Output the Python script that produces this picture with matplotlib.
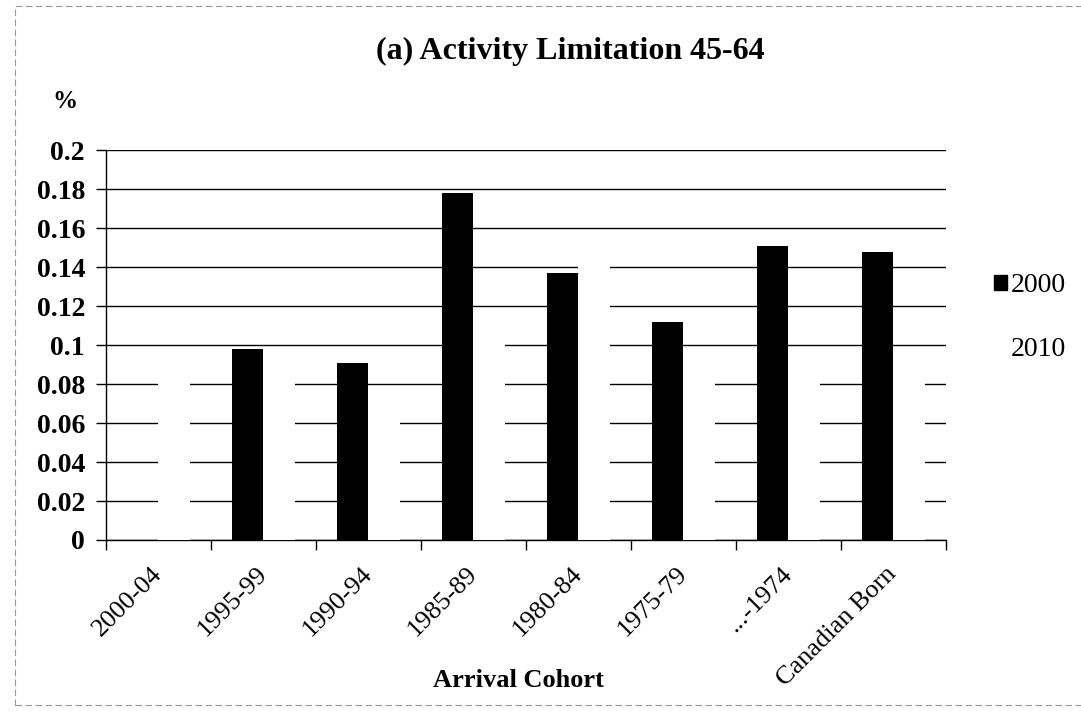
import numpy as np
import matplotlib
matplotlib.use('Agg')
import matplotlib.pyplot as plt
from matplotlib.patches import Patch, Rectangle

plt.rcParams['font.family'] = ['Liberation Serif', 'DejaVu Serif']

# данные
cohorts = ['2000-04', '1995-99', '1990-94', '1985-89', '1980-84',
           '1975-79', '...-1974', 'Canadian Born']
v2000 = [0.0, 0.098, 0.091, 0.178, 0.137, 0.112, 0.151, 0.148]
# серия 2010 белая, видна только по разрывам сетки
v2010 = [0.09, 0.09, 0.07, 0.11, 0.15, 0.09, 0.09, 0.09]
yticks = [0, 0.02, 0.04, 0.06, 0.08, 0.1, 0.12, 0.14, 0.16, 0.18, 0.2]
ylabels = ['0', '0.02', '0.04', '0.06', '0.08', '0.1', '0.12', '0.14',
           '0.16', '0.18', '0.2']

fig = plt.figure(figsize=(10.81, 7.14), dpi=100)
ax = fig.add_axes([0.098, 0.2437, 0.777, 0.546])

x = np.arange(len(cohorts))
w = 0.3
ax.bar(x - w / 2, v2000, w, color='black', zorder=3)
ax.bar(x + w / 2, v2010, w, color='white', zorder=3)

ax.set_ylim(0, 0.2)
ax.set_xlim(-0.5, len(cohorts) - 0.5)
ax.set_yticks(yticks)
ax.set_yticklabels(ylabels, fontsize=20, fontweight='bold')
ax.yaxis.grid(True, color='black', linewidth=1.0, zorder=1)
ax.set_axisbelow(True)

ax.set_xticks(np.arange(-0.5, len(cohorts), 1))
ax.set_xticklabels([])
ax.set_xticks(x, minor=True)
ax.set_xticklabels(cohorts, minor=True, rotation=45, ha='right',
                   va='center', rotation_mode='anchor', fontsize=19)
ax.tick_params(axis='x', which='minor', length=0, pad=22)
ax.tick_params(axis='x', which='major', length=7, width=1, direction='out')
ax.tick_params(axis='y', length=7, width=1, direction='out', pad=8)

for s in ['top', 'right']:
    ax.spines[s].set_visible(False)
for s in ['left', 'bottom']:
    ax.spines[s].set_linewidth(1.0)
    ax.spines[s].set_color('black')

handles = [Patch(facecolor='black', edgecolor='black'),
           Patch(facecolor='white', edgecolor='white')]
fig.legend(handles, ['2000', '2010'], loc='center left',
           bbox_to_anchor=(0.907, 0.555), frameon=False, fontsize=20,
           handlelength=0.45, handleheight=0.45, handletextpad=0.15,
           labelspacing=1.42, borderpad=0)

fig.text(0.528, 0.928, '(a) Activity Limitation 45-64', ha='center',
         va='center', fontsize=23, fontweight='bold')
fig.text(0.06, 0.858, '%', ha='center', va='center', fontsize=18,
         fontweight='bold')
fig.text(0.48, 0.047, 'Arrival Cohort', ha='center', va='center',
         fontsize=19, fontweight='bold')

# рамка отсканированного рисунка
fig.patches.append(Rectangle((0.014, 0.012), 0.99, 0.98,
                             transform=fig.transFigure, fill=False,
                             edgecolor='#999999', linewidth=0.8,
                             linestyle=(0, (6, 3))))

fig.savefig('out.png', dpi=100)
